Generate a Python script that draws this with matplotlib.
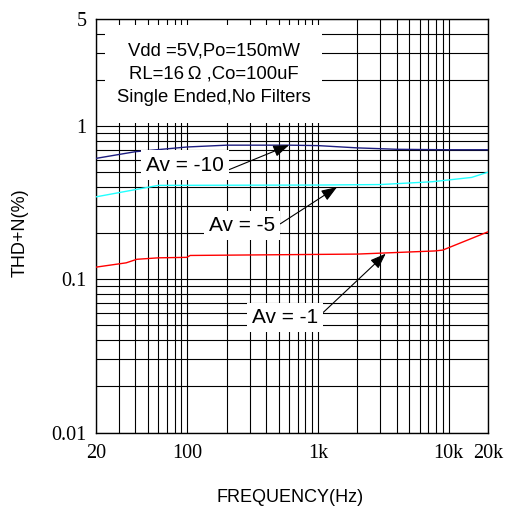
import numpy as np
import matplotlib
matplotlib.use('Agg')
import matplotlib.pyplot as plt
from matplotlib.ticker import FixedLocator, LogLocator, NullFormatter
from matplotlib.patches import Rectangle

# THD+N vs frequency
freq_av10 = [20, 40, 100, 200, 600, 1000, 2000, 4000, 10000, 20000]
thd_av10 = [0.615, 0.68, 0.73, 0.75, 0.75, 0.745, 0.72, 0.705, 0.70, 0.70]

freq_av5 = [20, 60, 1000, 3000, 7500, 15000, 20000]
thd_av5 = [0.345, 0.41, 0.412, 0.415, 0.433, 0.462, 0.50]

freq_av1 = [20, 34, 41, 60, 99, 105, 2000, 7800, 9000, 20000]
thd_av1 = [0.12, 0.128, 0.135, 0.138, 0.139, 0.143, 0.146, 0.153, 0.155, 0.204]

xtick_vals = [20, 100, 1000, 10000, 20000]
xtick_labels = ['20', '100', '1k', '10k', '20k']
ytick_vals = [0.01, 0.1, 1, 5]
ytick_labels = ['0.01', '0.1', '1', '5']

conditions = ['Vdd =5V,Po=150mW', 'RL=16\u2009\u03a9 ,Co=100uF', 'Single Ended,No Filters']

sans = ['Liberation Sans', 'DejaVu Sans']
serif = ['Liberation Serif', 'DejaVu Serif']

fig = plt.figure(figsize=(5.11, 5.11), dpi=100)
ax = fig.add_axes([0.188, 0.1536, 0.767, 0.8094])

ax.plot(freq_av10, thd_av10, color='#1c1c80', lw=1.0, zorder=3)
ax.plot(freq_av5, thd_av5, color='#22ffff', lw=1.0, zorder=3)
ax.plot(freq_av1, thd_av1, color='#ff0000', lw=1.0, zorder=3)

ax.set_xscale('log')
ax.set_yscale('log')
ax.set_xlim(20, 20000)
ax.set_ylim(0.01, 5)

ax.xaxis.set_major_locator(FixedLocator(xtick_vals))
ax.set_xticklabels(xtick_labels, fontfamily=serif, fontsize=14.5)
ax.yaxis.set_major_locator(FixedLocator(ytick_vals))
ax.set_yticklabels(ytick_labels, fontfamily=serif, fontsize=14.5)
ax.xaxis.set_minor_locator(LogLocator(base=10, subs=np.arange(1, 10), numticks=100))
ax.yaxis.set_minor_locator(LogLocator(base=10, subs=np.arange(1, 10), numticks=100))
ax.xaxis.set_minor_formatter(NullFormatter())
ax.yaxis.set_minor_formatter(NullFormatter())
ax.tick_params(which='both', length=0)
ax.tick_params(axis='x', pad=8)
ax.tick_params(axis='y', pad=7)

ax.grid(which='both', color='black', lw=0.8)
ax.set_axisbelow(True)
for s in ax.spines.values():
    s.set_linewidth(1.0)

ax.set_xlabel('FREQUENCY(Hz)', fontfamily=sans, fontsize=13, va='top')
ax.xaxis.set_label_coords(0.495, -0.137)
ax.set_ylabel('THD+N(%)', fontfamily=sans, fontsize=13)
ax.yaxis.set_label_coords(-0.171, 0.484)

# white panel with test conditions
ax.add_patch(Rectangle((0.023, 0.748), 0.554, 0.237, transform=ax.transAxes,
                       facecolor='white', edgecolor='none', zorder=2))
for txt, yy in zip(conditions, [0.922, 0.866, 0.811]):
    ax.text(0.30, yy, txt, transform=ax.transAxes, ha='center', va='center',
            fontfamily=sans, fontsize=13.3, zorder=4)

box = dict(boxstyle='square,pad=0.25', facecolor='white', edgecolor='none')
arrow = dict(arrowstyle='-|>,head_length=0.6,head_width=0.22', color='black',
             lw=0.8, mutation_scale=16, shrinkA=0, shrinkB=0)
ax.annotate('Av = -10', xy=(600, 0.75), xytext=(96, 0.556),
            ha='center', va='center', fontfamily=sans, fontsize=15,
            bbox=box, arrowprops=dict(arrow, relpos=(1.0, 0.15)), zorder=5)
ax.annotate('Av = -5', xy=(1400, 0.40), xytext=(262, 0.225),
            ha='center', va='center', fontfamily=sans, fontsize=15,
            bbox=box, arrowprops=dict(arrow, relpos=(1.0, 0.4)), zorder=5)
ax.annotate('Av = -1', xy=(3300, 0.147), xytext=(559, 0.0565),
            ha='center', va='center', fontfamily=sans, fontsize=15,
            bbox=box, arrowprops=dict(arrow, relpos=(1.0, 0.5)), zorder=5)

fig.savefig('out.png', dpi=100)
